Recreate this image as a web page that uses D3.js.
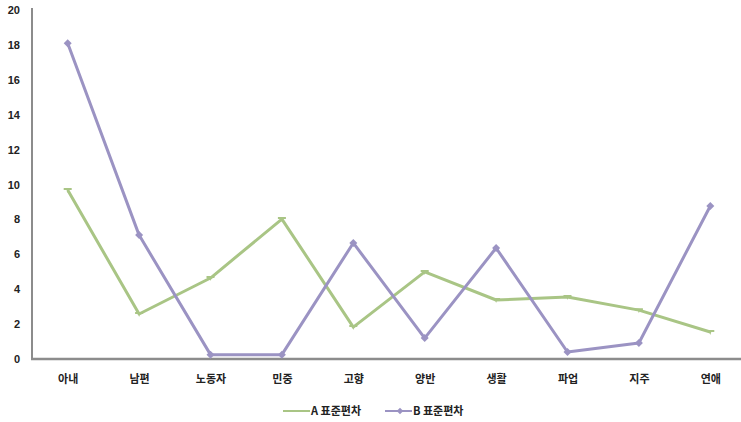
<!DOCTYPE html>
<html><head><meta charset="utf-8">
<script src="https://cdn.jsdelivr.net/npm/d3@7"></script>
<style>
html,body{margin:0;padding:0;background:#fff;}
svg{display:block;}
</style></head>
<body>
<svg id="chart" width="741" height="422"></svg>
<script>
const categories = ["아내","남편","노동자","민중","고향","양반","생활","파업","지주","연애"];
const seriesA = [9.68, 2.58, 4.64, 8.02, 1.83, 4.99, 3.38, 3.55, 2.8, 1.55];
const seriesB = [18.1, 7.1, 0.25, 0.25, 6.65, 1.2, 6.36, 0.4, 0.92, 8.77];
const yTicks = [0,2,4,6,8,10,12,14,16,18,20];
const seriesNames = ["A 표준편차","B 표준편차"];
const colors = ["#a9c585","#9b93c3"];

(function(){
const svg = d3.select("#chart");
const mLeft = 32, mRight = 746, mTop = 10, mBottom = 359;
const x = d3.scalePoint().domain(categories).range([mLeft, mRight]).padding(0.5);
const y = d3.scaleLinear().domain([0,20]).range([mBottom, mTop]);

const korFont = "'Noto Sans CJK KR', sans-serif";
const numFont = "'Liberation Sans', Arial, sans-serif";

// y axis
const yAxis = d3.axisLeft(y).tickValues(yTicks).tickSize(0).tickPadding(12).tickFormat(d3.format("d"));
const gy = svg.append("g").attr("transform", `translate(${mLeft},0)`).call(yAxis);
gy.select(".domain").remove();
gy.selectAll("text").attr("font-family", numFont).attr("font-weight","bold").attr("font-size", 11).attr("fill","#222");

// x axis
const xAxis = d3.axisBottom(x).tickSize(0).tickPadding(16);
const gx = svg.append("g").attr("transform", `translate(0,${mBottom})`).call(xAxis);
gx.select(".domain").remove();
gx.selectAll("text").attr("font-family", korFont).attr("font-weight","bold").attr("font-size", 11).attr("fill","#222");

// axis lines
svg.append("line").attr("x1", mLeft).attr("x2", mLeft).attr("y1", 8).attr("y2", mBottom+1)
  .attr("stroke","#8c8c8c").attr("stroke-width",2);
svg.append("line").attr("x1", mLeft-1).attr("x2", 741).attr("y1", mBottom).attr("y2", mBottom)
  .attr("stroke","#8c8c8c").attr("stroke-width",2.5);

const line = d3.line().x((d,i)=>x(categories[i])).y(d=>y(d));

// Series A
svg.append("path").datum(seriesA).attr("d", line).attr("fill","none")
  .attr("stroke", colors[0]).attr("stroke-width",3).attr("stroke-linejoin","round");
svg.append("g").selectAll("path").data(seriesA).join("path")
  .attr("transform",(d,i)=>`translate(${x(categories[i])},${y(d)})`)
  .attr("d","M-4,-2L4,-2L4,0L1,0L0,3L-1,0L-4,0Z")
  .attr("fill", colors[0]);

// Series B
svg.append("path").datum(seriesB).attr("d", line).attr("fill","none")
  .attr("stroke", colors[1]).attr("stroke-width",3).attr("stroke-linejoin","round");
const diamond = d3.symbol().type(d3.symbolSquare).size(32);
svg.append("g").selectAll("path").data(seriesB).join("path")
  .attr("transform",(d,i)=>`translate(${x(categories[i])},${y(d)}) rotate(45)`)
  .attr("d", diamond).attr("fill", colors[1]);

// Legend
const leg = svg.append("g").attr("transform","translate(0,411)");
leg.append("line").attr("x1",283).attr("x2",310).attr("y1",0).attr("y2",0).attr("stroke",colors[0]).attr("stroke-width",2);
leg.append("text").attr("x",311).attr("y",4).text(seriesNames[0])
  .attr("font-family",korFont).attr("font-weight","bold").attr("font-size",11).attr("fill","#222");
leg.append("line").attr("x1",385).attr("x2",412).attr("y1",0).attr("y2",0).attr("stroke",colors[1]).attr("stroke-width",2);
leg.append("path").attr("transform","translate(400,0) rotate(45)").attr("d", d3.symbol().type(d3.symbolSquare).size(22)).attr("fill",colors[1]);
leg.append("text").attr("x",413).attr("y",4).text(seriesNames[1])
  .attr("font-family",korFont).attr("font-weight","bold").attr("font-size",11).attr("fill","#222");
})();
</script>
</body></html>
